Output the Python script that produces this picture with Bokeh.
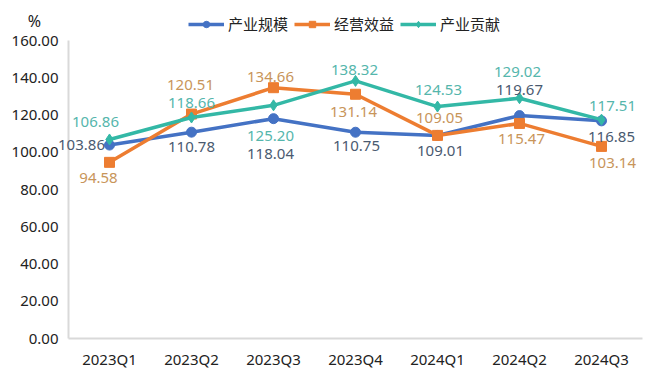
from bokeh.plotting import figure
from bokeh.models import (ColumnDataSource, Legend, LegendItem,
                          NumeralTickFormatter, FixedTicker, Range1d, FactorRange)
from bokeh.embed import file_html
from bokeh.resources import INLINE
from bokeh.core.properties import value

# ---- data ----
quarters = ["2023Q1", "2023Q2", "2023Q3", "2023Q4", "2024Q1", "2024Q2", "2024Q3"]
series_names = ["产业规模", "经营效益", "产业贡献"]
scale_vals = [103.86, 110.78, 118.04, 110.75, 109.01, 119.67, 116.85]
profit_vals = [94.58, 120.51, 134.66, 131.14, 109.05, 115.47, 103.14]
contrib_vals = [106.86, 118.66, 125.20, 138.32, 124.53, 129.02, 117.51]
y_ticks = [0, 20, 40, 60, 80, 100, 120, 140, 160]
unit_text = "%"

# ---- style: label offsets in screen px (dx, dy; dy positive = down) ----
scale_dx = [-28, 0, -3, 1, 3, 0, 10]
scale_dy = [0, 15, 35, 14, 16, -26, 16]
profit_dx = [-11, -1, -3, -2, 2, 2, 11]
profit_dy = [16, -29, -11, 18, -17, 16, 17]
contrib_dx = [-14, 0, -3, -1, 1, -2, 11]
contrib_dy = [-17, -14, 31, -11, -17, -26, -14]

LINE_COLORS = ["#4472C4", "#ED7D31", "#33B8A6"]
LABEL_COLORS = ["#4A5A70", "#C8955A", "#55B6AC"]
NUM_FONT = "Noto Sans"
CJK_FONT = "Noto Sans CJK SC"
markers = ["circle", "square", "diamond"]
msizes = [10, 10, 11]

# frame spans y pixels 0..338; value 160 sits at pixel 40
y_top = y_ticks[-1] * 338 / 298
p = figure(width=660, height=378, x_range=FactorRange(*quarters),
           y_range=Range1d(0, y_top), output_backend="svg", toolbar_location=None,
           min_border_left=68, min_border_right=18, min_border_top=0,
           min_border_bottom=40)
p.outline_line_color = None
p.xgrid.visible = False
p.ygrid.visible = False
p.border_fill_color = "white"

p.yaxis.ticker = FixedTicker(ticks=y_ticks)
p.yaxis.formatter = NumeralTickFormatter(format="0.00")
p.yaxis.bounds = (y_ticks[0], y_ticks[-1])
for ax in (p.xaxis[0], p.yaxis[0]):
    ax.axis_line_color = "#D9D9D9"
    ax.axis_line_width = 2
    ax.major_tick_line_color = None
    ax.minor_tick_line_color = None
    ax.major_tick_out = 0
    ax.major_tick_in = 0
    ax.major_label_text_font = NUM_FONT
    ax.major_label_text_font_size = "15px"
    ax.major_label_text_color = "#222222"
p.yaxis.major_label_standoff = 10
p.xaxis.major_label_standoff = 10

all_vals = [scale_vals, profit_vals, contrib_vals]
all_dx = [scale_dx, profit_dx, contrib_dx]
all_dy = [scale_dy, profit_dy, contrib_dy]

items = []
for i, name in enumerate(series_names):
    src = ColumnDataSource(dict(x=quarters, y=all_vals[i],
                                lab=["%.2f" % v for v in all_vals[i]],
                                dx=all_dx[i], dy=all_dy[i]))
    ln = p.line("x", "y", source=src, line_color=LINE_COLORS[i], line_width=3.5)
    mk = p.scatter("x", "y", source=src, marker=markers[i], size=msizes[i],
                   fill_color=LINE_COLORS[i], line_color=LINE_COLORS[i])
    p.text("x", "y", text="lab", source=src, x_offset="dx", y_offset="dy",
           text_align="center", text_baseline="middle",
           text_font=value(NUM_FONT), text_font_size="15px",
           text_color=LABEL_COLORS[i], level="overlay")
    items.append(LegendItem(label=name, renderers=[ln, mk]))

# unit text at the top-left corner, anchored to the first category / top tick
usrc = ColumnDataSource(dict(x=[quarters[0]], y=[y_ticks[-1]], t=[unit_text]))
p.text("x", "y", text="t", source=usrc, x_offset=-75, y_offset=-20,
       text_align="center", text_baseline="middle",
       text_font=value(NUM_FONT), text_font_size="16px",
       text_color="#222222", level="overlay")

legend = Legend(items=items, orientation="horizontal", location=(120, 304),
                padding=0, margin=0, spacing=6, glyph_width=36, glyph_height=16,
                label_standoff=4, label_height=16,
                label_text_font=CJK_FONT, label_text_font_size="15px",
                label_text_color="#222222",
                border_line_color=None, background_fill_alpha=0)
p.add_layout(legend)

open("out.html", "w").write(file_html(p, INLINE))
